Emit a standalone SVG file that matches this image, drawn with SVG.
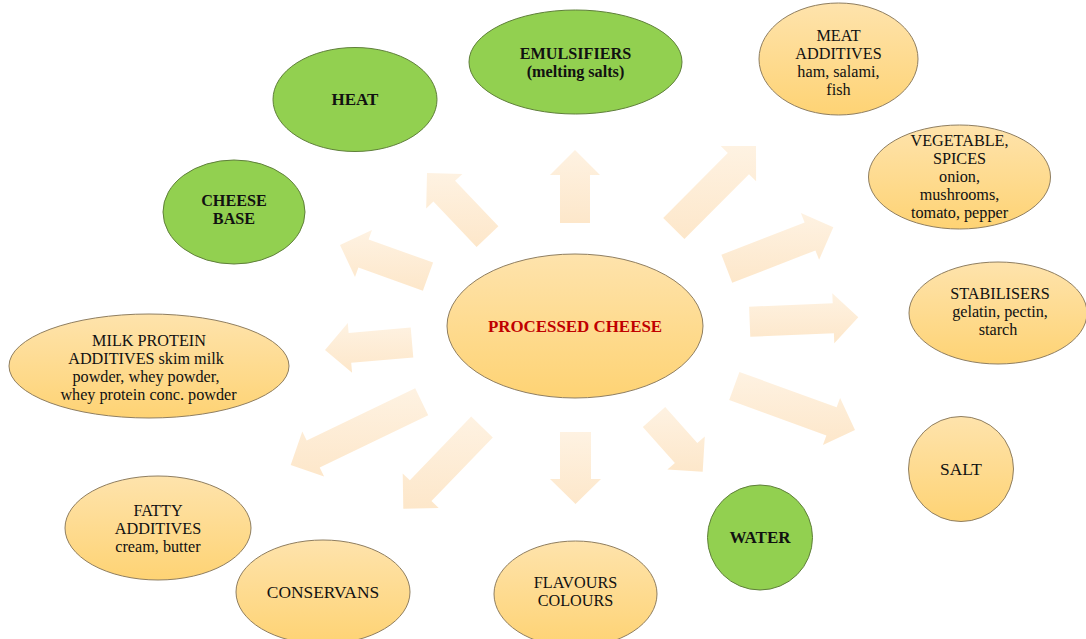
<svg xmlns="http://www.w3.org/2000/svg" width="1086" height="639" viewBox="0 0 1086 639">
<defs>
<linearGradient id="og" x1="0" y1="0" x2="0" y2="1">
<stop offset="0" stop-color="#FEE3AC"/>
<stop offset="1" stop-color="#FED374"/>
</linearGradient>
<linearGradient id="ag" x1="0" y1="0" x2="0" y2="1">
<stop offset="0" stop-color="#FEF2E2"/>
<stop offset="1" stop-color="#FDE7CA"/>
</linearGradient>
<style>
.o{fill:url(#og);stroke:#8F7E60;stroke-width:1}
.g{fill:#92D050;stroke:#5F7F3A;stroke-width:1}
.a{fill:url(#ag);stroke:none}
text{font-family:"Liberation Serif","Times New Roman",serif;font-size:16.2px;fill:#111;text-anchor:middle}
.b{font-weight:bold;font-size:16.2px}
.s{font-size:17.4px}
.bs{font-weight:bold;font-size:17px}
.r{fill:#C00000;font-weight:bold;font-size:16.9px}
</style>
</defs>
<rect width="1086" height="639" fill="#fff"/>
<g id="connectors">
<polygon class="a" points="560,223 560,175 550,175 575,150 600,175 590,175 590,223"/>
<polygon class="a" points="560,432 560,479 550,479 575.5,504 601,479 591,479 591,432"/>
<polygon class="a" points="498.4,226.2 455.1,180.8 462.4,173.9 427,173 426.2,208.4 433.4,201.5 476.6,246.9"/>
<polygon class="a" points="433.1,262.6 368.6,239.4 372,230 340,245 355,277 358.4,267.6 422.9,290.8"/>
<polygon class="a" points="410.7,327.6 348.6,332.9 347.8,322.9 325,350 352.1,372.8 351.2,362.8 413.3,357.5"/>
<polygon class="a" points="415.2,388.2 306.7,440.6 302.3,431.6 290.7,465 324.1,476.6 319.7,467.6 428.2,415.2"/>
<polygon class="a" points="471.2,416.6 409.9,480.3 402.7,473.4 403.3,508.7 438.7,508.1 431.5,501.1 492.8,437.4"/>
<polygon class="a" points="642.8,427 674.9,463 667.4,469.6 702.7,471.7 704.8,436.4 697.3,443 665.2,407"/>
<polygon class="a" points="684.4,239.1 749,174.3 756.1,181.3 756,146 720.7,146.1 727.8,153.1 663.2,217.9"/>
<polygon class="a" points="732.2,282.8 815.4,250.4 819.1,259.7 833.3,227.3 800.9,213.1 804.6,222.4 721.4,254.8"/>
<polygon class="a" points="750.3,336.7 833.9,333.3 834.3,343.3 858.3,317.3 832.3,293.3 832.7,303.3 749.1,306.7"/>
<polygon class="a" points="729.2,400.1 826.4,435.5 822.9,444.9 855,430 840.1,397.9 836.6,407.3 739.4,371.9"/>
</g>
<g id="processed-cheese">
<ellipse class="o" cx="575" cy="326" rx="128" ry="72"/>
<text class="r" x="575" y="332">PROCESSED CHEESE</text>
</g>
<g id="emulsifiers">
<ellipse class="g" cx="575.5" cy="62" rx="106.5" ry="52"/>
<text class="b" x="575.5" y="59">EMULSIFIERS</text>
<text class="b" x="575.5" y="77">(melting salts)</text>
</g>
<g id="heat">
<ellipse class="g" cx="355" cy="99.5" rx="82" ry="52"/>
<text class="bs" x="355" y="105">HEAT</text>
</g>
<g id="cheese-base">
<ellipse class="g" cx="234" cy="212" rx="71" ry="52"/>
<text class="b" x="234" y="205.5">CHEESE</text>
<text class="b" x="234" y="223.5">BASE</text>
</g>
<g id="meat-additives">
<ellipse class="o" cx="838.5" cy="59" rx="79.5" ry="56"/>
<text x="838.5" y="40.5">MEAT</text>
<text x="838.5" y="58.5">ADDITIVES</text>
<text x="838.5" y="76.5">ham, salami,</text>
<text x="838.5" y="94.5">fish</text>
</g>
<g id="vegetable-spices">
<ellipse class="o" cx="959.5" cy="177" rx="91" ry="52"/>
<text x="959.5" y="146.2">VEGETABLE,</text>
<text x="959.5" y="164.2">SPICES</text>
<text x="959.5" y="182.2">onion,</text>
<text x="959.5" y="200.2">mushrooms,</text>
<text x="959.5" y="218.2">tomato, pepper</text>
</g>
<g id="stabilisers">
<ellipse class="o" cx="998" cy="313" rx="89" ry="51"/>
<text x="1000" y="299">STABILISERS</text>
<text x="1000" y="317">gelatin, pectin,</text>
<text x="998" y="335">starch</text>
</g>
<g id="salt">
<circle class="o" cx="961" cy="469" r="52.5"/>
<text class="s" x="961" y="475">SALT</text>
</g>
<g id="water">
<circle class="g" cx="760" cy="537.5" r="52.5"/>
<text class="bs" x="760" y="543">WATER</text>
</g>
<g id="flavours-colours">
<ellipse class="o" cx="575.5" cy="594" rx="81.5" ry="53"/>
<text x="575.5" y="587.5">FLAVOURS</text>
<text x="575.5" y="605.5">COLOURS</text>
</g>
<g id="conservans">
<ellipse class="o" cx="323" cy="592" rx="87" ry="52"/>
<text class="s" x="323" y="597.5">CONSERVANS</text>
</g>
<g id="fatty-additives">
<ellipse class="o" cx="158" cy="528" rx="93" ry="52"/>
<text x="158" y="516">FATTY</text>
<text x="158" y="534">ADDITIVES</text>
<text x="158" y="552">cream, butter</text>
</g>
<g id="milk-protein-additives">
<ellipse class="o" cx="149" cy="366" rx="140" ry="52"/>
<text x="149" y="346">MILK PROTEIN</text>
<text x="146" y="364">ADDITIVES  skim milk</text>
<text x="146" y="382">powder, whey powder,</text>
<text x="148.5" y="400">whey protein conc. powder</text>
</g>
</svg>
